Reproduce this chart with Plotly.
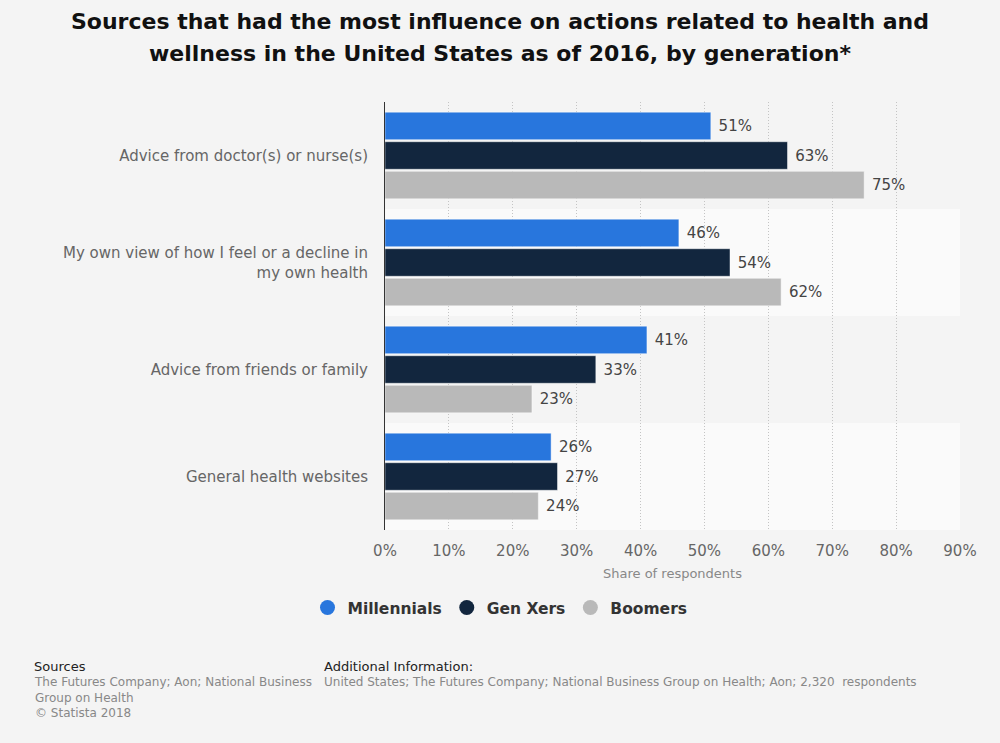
import plotly.graph_objects as go

categories = [
    "Advice from doctor(s) or nurse(s)",
    "My own view of how I feel or a decline in<br>my own health",
    "Advice from friends or family",
    "General health websites",
]
series_names = ["Millennials", "Gen Xers", "Boomers"]
millennials = [51, 46, 41, 26]
gen_xers = [63, 54, 33, 27]
boomers = [75, 62, 23, 24]
colors = ["#2876dd", "#12263e", "#b9b9b9"]
x_ticks = [0, 10, 20, 30, 40, 50, 60, 70, 80, 90]

fig = go.Figure()
for name, vals, col in zip(series_names, [millennials, gen_xers, boomers], colors):
    fig.add_trace(go.Bar(
        y=categories, x=vals, name=name, orientation="h",
        marker=dict(color=col, line=dict(color="rgba(255,255,255,0.45)", width=1)),
        text=[f"\u00a0{v}%" for v in vals], textposition="outside",
        textfont=dict(family="DejaVu Sans", size=15, color="#444"),
        cliponaxis=False, showlegend=False,
    ))
    fig.add_trace(go.Scatter(
        x=[None], y=[None], mode="markers", name=name,
        marker=dict(symbol="circle", size=15, color=col), showlegend=True,
    ))

# alternating category bands
for i in range(len(categories)):
    if i % 2 == 1:
        fig.add_shape(type="rect", xref="paper", yref="y", x0=0, x1=1,
                      y0=i - 0.5, y1=i + 0.5, fillcolor="#fafafa",
                      line=dict(width=0), layer="below")

fig.update_layout(
    width=1000, height=743,
    paper_bgcolor="#f4f4f4", plot_bgcolor="#f4f4f4",
    margin=dict(l=385, r=40, t=102, b=213),
    barmode="group", bargap=0.17, bargroupgap=0.07,
    font=dict(family="DejaVu Sans", color="#666"),
    xaxis=dict(
        range=[0, 90], tickvals=x_ticks, ticktext=[f"{t}%" for t in x_ticks],
        showgrid=True, gridcolor="#c4c4c4", griddash="1px,2px", gridwidth=1,
        zeroline=False, showline=False, ticks="", ticklabelstandoff=10,
        tickfont=dict(size=15, color="#666"),
        title=dict(text="Share of respondents", font=dict(size=13, color="#888"), standoff=9),
    ),
    yaxis=dict(
        autorange="reversed", showgrid=False, showline=True, linecolor="#333",
        linewidth=1, ticks="", ticklabelstandoff=13,
        tickfont=dict(size=15, color="#666"),
    ),
    legend=dict(
        orientation="h", x=0.2, xanchor="center", y=-0.182, yanchor="middle",
        font=dict(size=15.5, color="#333", family="DejaVu Sans", weight="bold"),
        itemwidth=30, traceorder="normal", bgcolor="rgba(0,0,0,0)",
    ),
)

title_lines = [
    ("Sources that had the most influence on actions related to health and", 22),
    ("wellness in the United States as of 2016, by generation*", 53),
]
for txt, ypx in title_lines:
    fig.add_annotation(text=f"<b>{txt}</b>", xref="paper", yref="paper",
                       x=(500 - 385) / 575, y=1 + (102 - ypx) / 428,
                       xanchor="center", yanchor="middle", showarrow=False,
                       font=dict(family="DejaVu Sans", size=22, color="#111"))

footer = [
    dict(text="Sources", x=-0.614, y=-0.297, size=13, color="#222"),
    dict(text="The Futures Company; Aon; National Business<br>Group on Health<br>© Statista 2018",
         x=-0.614, y=-0.333, size=12, color="#888"),
    dict(text="Additional Information:", x=-0.109, y=-0.297, size=13, color="#222"),
    dict(text="United States; The Futures Company; National Business Group on Health; Aon; 2,320  respondents",
         x=-0.109, y=-0.333, size=12, color="#888"),
]
for f in footer:
    fig.add_annotation(text=f["text"], xref="paper", yref="paper", x=f["x"], y=f["y"],
                       xanchor="left", yanchor="top", showarrow=False, align="left",
                       font=dict(size=f["size"], color=f["color"], family="DejaVu Sans"))

fig.write_html("out.html", config={"displayModeBar": False},
               post_script="document.body.style.margin='0';document.body.style.background='#f4f4f4';")
